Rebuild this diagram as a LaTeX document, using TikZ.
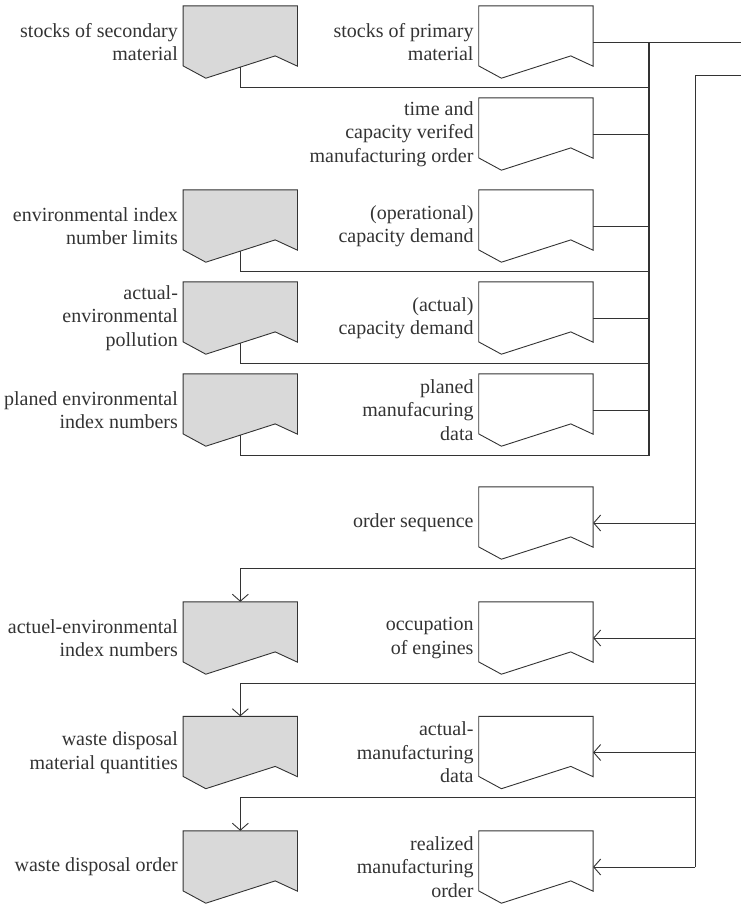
\documentclass[tikz,border=0pt]{standalone}
\usepackage{fontspec}
\setmainfont{Liberation Serif}
\usetikzlibrary{positioning,arrows.meta,calc}
\definecolor{shade}{gray}{0.85}
\definecolor{ink}{gray}{0.2}
\tikzset{
  doc/.style={minimum width=114pt, minimum height=72pt, inner sep=0pt},
  txt/.style={align=right, inner sep=0pt, text=ink, font=\fontsize{20}{23.5}\selectfont},
  wire/.style={draw=ink, line width=0.9pt},
  bus/.style={draw=ink, line width=1.4pt},
  flow/.style={wire, -{Straight Barb[length=7pt,width=16pt]}},
}
\begin{document}
\begin{tikzpicture}[x=1pt, y=-1pt]
  \useasboundingbox (0,0) rectangle (741,905);
  % upper block: inputs collected on bus 1
  \node[doc] (sec) at (240.3,42)  {};
  \node[doc] (lim) at (240.3,226) {};
  \node[doc] (pol) at (240.3,318) {};
  \node[doc] (pen) at (240.3,410) {};
  \node[doc] (pri) at (535.9,42)  {};
  \node[doc] (ord) at (535.9,134) {};
  \node[doc] (opd) at (535.9,226) {};
  \node[doc] (acd) at (535.9,318) {};
  \node[doc] (pmd) at (535.9,410) {};
  % lower block: outputs fed from bus 2
  \node[doc] (seq) at (535.9,523)   {};
  \node[doc] (occ) at (535.9,638)   {};
  \node[doc] (amd) at (535.9,752.5) {};
  \node[doc] (rmo) at (535.9,867)   {};
  \node[doc] (aei) at (240.3,638)   {};
  \node[doc] (wdq) at (240.3,752.5) {};
  \node[doc] (wdo) at (240.3,867)   {};

  % document outlines
  \foreach \n/\c in {sec/shade, lim/shade, pol/shade, pen/shade, aei/shade, wdq/shade, wdo/shade,
                     pri/white, ord/white, opd/white, acd/white, pmd/white,
                     seq/white, occ/white, amd/white, rmo/white}{
    \filldraw[fill=\c, draw=ink, line width=0.9pt]
      (\n.north west) -- (\n.north east) -- ([yshift=12pt]\n.south east)
      -- ([shift={(-22.3pt,22.3pt)}]\n.south east) -- ([xshift=22.7pt]\n.south west)
      -- ([yshift=12.3pt]\n.south west) -- cycle;
  }

  % labels
  \node[txt, left=5pt of sec] {stocks of secondary\\material};
  \node[txt, left=5pt of lim] {environmental index\\number limits};
  \node[txt, left=5pt of pol] {actual-\\environmental\\pollution};
  \node[txt, left=5pt of pen] {planed environmental\\index numbers};
  \node[txt, left=5pt of pri] {stocks of primary\\material};
  \node[txt, left=5pt of ord] {time and\\capacity verifed\\manufacturing order};
  \node[txt, left=5pt of opd] {(operational)\\capacity demand};
  \node[txt, left=5pt of acd] {(actual)\\capacity demand};
  \node[txt, left=5pt of pmd] {planed\\manufacuring\\data};
  \node[txt, left=5pt of seq] {order sequence};
  \node[txt, left=5pt of occ] {occupation\\of engines};
  \node[txt, left=5pt of amd] {actual-\\manufacturing\\data};
  \node[txt, left=5pt of rmo] {realized\\manufacturing\\order};
  \node[txt, left=5pt of aei] {actuel-environmental\\index numbers};
  \node[txt, left=5pt of wdq] {waste disposal\\material quantities};
  \node[txt, left=5pt of wdo] {waste disposal order};

  % buses
  \coordinate (b1top) at (649,42);
  \coordinate (b1bot) at (649,455.6);
  \coordinate (b2top) at (695.3,75);
  \coordinate (b2bot) at (695.3,867);
  \coordinate (endA) at (741,42);
  \coordinate (endB) at (741,75);
  \draw[bus] (b1top) -- (b1bot);
  \draw[bus] (b2top) -- (b2bot);
  \draw[wire] (pri.east) -- (endA);
  \draw[wire] (b2top) -- (endB);

  % right column into bus 1
  \foreach \n in {ord, opd, acd, pmd}
    \draw[wire] (\n.east) -- (\n.east -| b1top);
  % left column into bus 1
  \foreach \n in {sec, lim, pol, pen}{
    \coordinate (\n-out) at ([yshift=11.4pt]\n.south);
    \coordinate (\n-j) at ([yshift=-9.6pt]\n.south);
    \draw[wire] (\n-out) -- (\n-j) -- (\n-j -| b1top);
  }

  % bus 2 out to the right column
  \foreach \n in {seq, occ, amd, rmo}
    \draw[flow] (\n.east -| b2top) -- (\n.east);
  % bus 2 out to the left column
  \foreach \n in {aei, wdq, wdo}{
    \coordinate (\n-j) at ([yshift=33pt]\n.north);
    \draw[flow] (\n-j -| b2top) -- (\n-j) -- (\n.north);
  }
\end{tikzpicture}
\end{document}
